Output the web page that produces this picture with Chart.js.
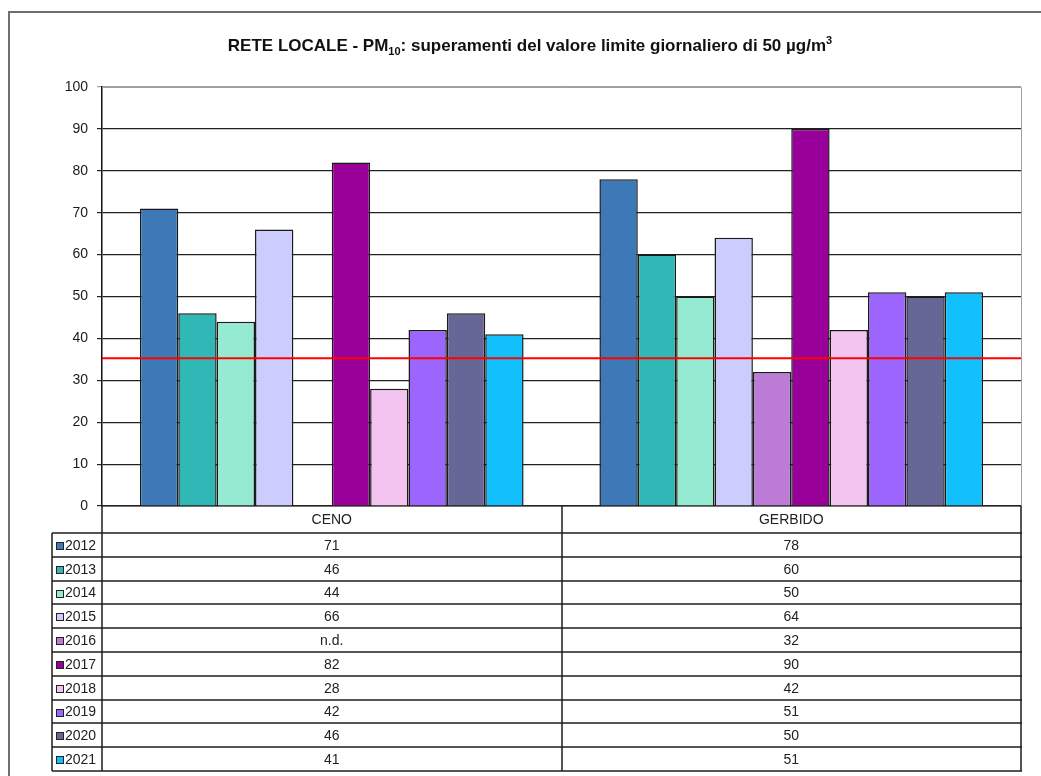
<!DOCTYPE html>
<html>
<head>
<meta charset="utf-8">
<title>RETE LOCALE - PM10</title>
<script src="https://cdn.jsdelivr.net/npm/chart.js@4.4.0/dist/chart.umd.min.js"></script>
<style>
  html, body { margin: 0; padding: 0; background: #fff; }
  #wrap { width: 1041px; height: 776px; position: relative; }
</style>
</head>
<body>
<div id="wrap"><canvas id="pmChart" width="1041" height="776"></canvas></div>
<script>
// ---- data ----
var stations = ['CENO', 'GERBIDO'];
var years = ['2012', '2013', '2014', '2015', '2016', '2017', '2018', '2019', '2020', '2021'];
var cenoValues = [71, 46, 44, 66, null, 82, 28, 42, 46, 41];   // 2016 = n.d.
var gerbidoValues = [78, 60, 50, 64, 32, 90, 42, 51, 50, 51];
var yearColors = ['#3d79b6', '#2fb8b6', '#95ead2', '#ccccff', '#bd7bd8',
                  '#990099', '#f2c4ef', '#9c66fe', '#676797', '#12c0fd'];
var yTicks = [0, 10, 20, 30, 40, 50, 60, 70, 80, 90, 100];
var limitDays = 35;

var FONT = '"Liberation Sans", Arial, sans-serif';

var datasets = years.map(function(year, i) {
    return {
        label: year,
        data: [cenoValues[i], gerbidoValues[i]],
        backgroundColor: yearColors[i],
        borderColor: '#1a1a1a',
        borderWidth: 1.5,
        borderSkipped: 'bottom',
        categoryPercentage: 0.835,
        barPercentage: 1.0
    };
});

// title, limit line, plot border and the data table under the chart
var decorPlugin = {
    id: 'decor',
    beforeDraw: function(chart) {
        var ctx = chart.ctx;
        ctx.save();
        // outer frame
        ctx.strokeStyle = '#6e6e6e';
        ctx.lineWidth = 2;
        ctx.beginPath();
        ctx.moveTo(9, 776);
        ctx.lineTo(9, 12);
        ctx.lineTo(1041, 12);
        ctx.stroke();

        // title with sub/superscript
        var parts = [
            { t: 'RETE LOCALE - PM', size: 17, dy: 0 },
            { t: '10', size: 11, dy: 4 },
            { t: ': superamenti del valore limite giornaliero di 50 \u00b5g/m', size: 17, dy: 0 },
            { t: '3', size: 11, dy: -7 }
        ];
        var total = 0;
        parts.forEach(function(p) {
            ctx.font = 'bold ' + p.size + 'px ' + FONT;
            p.w = ctx.measureText(p.t).width;
            total += p.w;
        });
        var x = 530 - total / 2;
        ctx.fillStyle = '#111';
        ctx.textBaseline = 'alphabetic';
        ctx.textAlign = 'left';
        parts.forEach(function(p) {
            ctx.font = 'bold ' + p.size + 'px ' + FONT;
            ctx.fillText(p.t, x, 51 + p.dy);
            x += p.w;
        });
        ctx.restore();
    },
    afterDatasetsDraw: function(chart) {
        var ctx = chart.ctx;
        var area = chart.chartArea;
        var yScale = chart.scales.y;
        var xScale = chart.scales.x;
        ctx.save();

        // plot area border (top and right)
        ctx.strokeStyle = '#a0a0a0';
        ctx.lineWidth = 1;
        ctx.beginPath();
        ctx.moveTo(area.left, Math.round(area.top) + 0.5);
        ctx.lineTo(Math.round(area.right) + 0.5, Math.round(area.top) + 0.5);
        ctx.lineTo(Math.round(area.right) + 0.5, area.bottom);
        ctx.stroke();

        // limit line
        var yl = yScale.getPixelForValue(limitDays);
        ctx.strokeStyle = '#ff0000';
        ctx.lineWidth = 2;
        ctx.beginPath();
        ctx.moveTo(area.left, yl - 1);
        ctx.lineTo(area.right, yl - 1);
        ctx.stroke();

        // data table
        var tableTop = area.bottom;
        var headerBottom = tableTop + 27;
        var rowH = 23.8;
        var tableBottom = headerBottom + rowH * years.length;
        var legendLeft = 52;
        var catW = (area.right - area.left) / stations.length;

        ctx.strokeStyle = '#1e1e1e';
        ctx.lineWidth = 1.5;
        ctx.beginPath();
        // vertical lines
        ctx.moveTo(area.left, tableTop);
        ctx.lineTo(area.left, tableBottom);
        for (var c = 1; c <= stations.length; c++) {
            var xb = Math.round(area.left + catW * c);
            ctx.moveTo(xb, tableTop);
            ctx.lineTo(xb, tableBottom);
        }
        ctx.moveTo(legendLeft, headerBottom);
        ctx.lineTo(legendLeft, tableBottom);
        // horizontal lines
        for (var r = 0; r <= years.length; r++) {
            var yy = Math.round(headerBottom + rowH * r);
            ctx.moveTo(legendLeft, yy);
            ctx.lineTo(area.right + 1, yy);
        }
        ctx.stroke();

        ctx.font = '14px ' + FONT;
        ctx.fillStyle = '#222';
        ctx.textBaseline = 'middle';
        // header row
        ctx.textAlign = 'center';
        stations.forEach(function(name, i) {
            ctx.fillText(name, xScale.getPixelForValue(i), (tableTop + headerBottom) / 2 + 1);
        });
        // value rows
        ctx.lineWidth = 1;
        years.forEach(function(year, r) {
            var cy = headerBottom + rowH * r + rowH / 2 + 1;
            // legend swatch
            ctx.fillStyle = yearColors[r];
            ctx.fillRect(56, Math.round(cy - 4), 8, 8);
            ctx.strokeStyle = '#222';
            ctx.strokeRect(56.5, Math.round(cy - 4) + 0.5, 7, 7);
            ctx.fillStyle = '#222';
            ctx.textAlign = 'left';
            ctx.fillText(year, 65, cy);
            ctx.textAlign = 'center';
            var rowVals = chart.data.datasets[r].data;
            rowVals.forEach(function(v, i) {
                ctx.fillText(v === null ? 'n.d.' : String(v), xScale.getPixelForValue(i), cy);
            });
        });
        ctx.restore();
    }
};

var chart = new Chart(document.getElementById('pmChart'), {
    type: 'bar',
    data: { labels: stations, datasets: datasets },
    options: {
        responsive: false,
        animation: false,
        layout: { padding: { top: 87, right: 20, bottom: 270, left: 0 } },
        plugins: {
            legend: { display: false },
            tooltip: { enabled: false }
        },
        scales: {
            x: {
                ticks: { display: false },
                grid: { display: false, drawTicks: false },
                border: { display: true, color: '#222', width: 1.5 }
            },
            y: {
                min: 0,
                max: 100,
                afterFit: function(scale) { scale.width = 102; },
                afterBuildTicks: function(scale) {
                    scale.ticks = yTicks.map(function(v) { return { value: v }; });
                },
                ticks: {
                    color: '#1a1a1a',
                    padding: 9,
                    font: { family: FONT, size: 14 }
                },
                grid: {
                    tickLength: 5,
                    lineWidth: 1.2,
                    color: function(c) { return c.tick && c.tick.value === 100 ? '#a0a0a0' : '#222'; }
                },
                border: { color: '#111', width: 1.5 }
            }
        }
    },
    plugins: [decorPlugin]
});
</script>
</body>
</html>
